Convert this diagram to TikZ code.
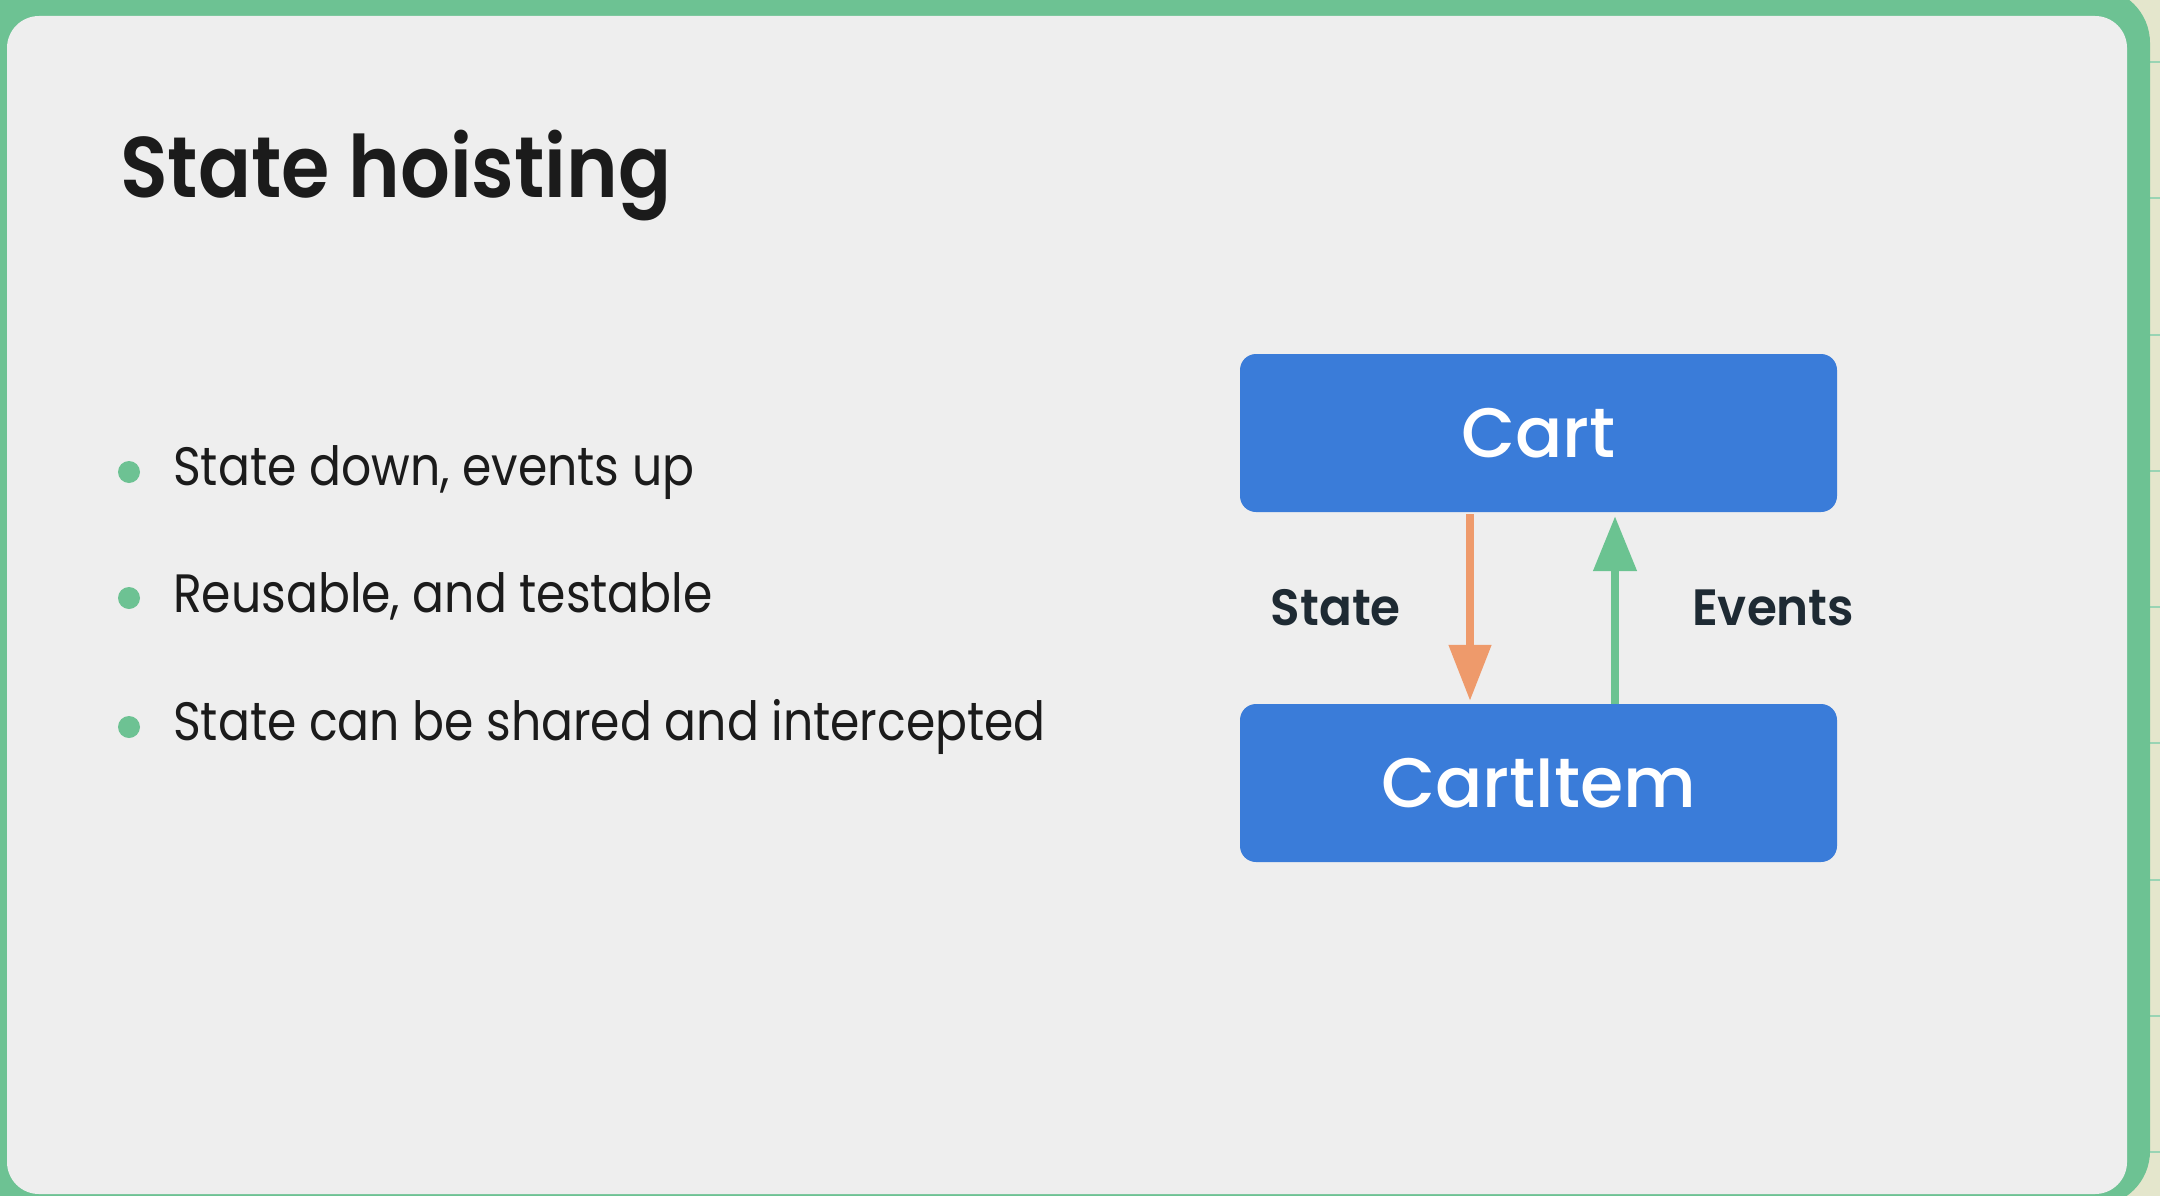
\documentclass[tikz,border=0pt]{standalone}
\usepackage{fontspec}
\setmainfont{Poppins}
\newfontfamily\titlefont{Poppins SemiBold}[FakeStretch=0.91]
\newfontfamily\bodyfont{Poppins}[FakeStretch=0.875]
\newfontfamily\boxfont{Poppins Medium}
\newfontfamily\labelfont{Poppins SemiBold}[FakeStretch=0.95]
\usetikzlibrary{arrows.meta}

\definecolor{panelbg}{HTML}{EEEEEE}
\definecolor{framegreen}{HTML}{6DC293}
\definecolor{stripbg}{HTML}{E4E6CC}
\definecolor{boxblue}{HTML}{3A7CD9}
\definecolor{stateorange}{HTML}{EE9A6B}
\definecolor{eventgreen}{HTML}{6BC391}
\definecolor{inkdark}{HTML}{1B1B1B}
\definecolor{labeldark}{HTML}{1E2A33}

\tikzset{
  titletext/.style={anchor=base west, inner sep=0pt, text=inkdark,
    font=\titlefont\fontsize{86}{96}\selectfont},
  bullettext/.style={anchor=base west, inner sep=0pt, text=inkdark,
    font=\bodyfont\fontsize{54}{60}\selectfont},
  bulletdot/.style={circle, fill=framegreen, minimum size=22pt, inner sep=0pt},
  compbox/.style={rectangle, rounded corners=16pt, fill=boxblue, text=white,
    minimum width=597pt, minimum height=158pt, inner sep=0pt,
    font=\boxfont\fontsize{70}{80}\selectfont},
  flowlabel/.style={inner sep=0pt, text=labeldark,
    font=\labelfont\fontsize{51}{60}\selectfont},
  statearrow/.style={draw=stateorange, line width=8pt,
    -{Triangle[width=41pt,length=56pt]}, shorten <=2pt, shorten >=3pt},
  eventarrow/.style={draw=eventgreen, line width=8pt,
    -{Triangle[width=42pt,length=55pt]}, shorten >=4pt},
}

\begin{document}
\begin{tikzpicture}[x=1pt,y=-1pt]
  \useasboundingbox (0,0) rectangle (2160,1196);

  % backdrop strip on the right with its ruled lines
  \fill[stripbg] (0,0) rectangle (2160,1196);
  \foreach \yy in {62,198,335,471,607,743,880,1016,1152}
    \draw[framegreen!70, line width=2pt] (2150,\yy) -- (2160,\yy);

  % green frame and slide panel
  \fill[framegreen] (-40,-12) [rounded corners=55pt] rectangle (2150,1206);
  \fill[panelbg] (7,16) [rounded corners=32pt] rectangle (2127,1194);

  % title
  \node[titletext] (title) at (120,197) {State hoisting};

  % bullet list
  \node[bulletdot] (d1) at (129,472) {};
  \node[bulletdot] (d2) at (129,598) {};
  \node[bulletdot] (d3) at (129,727) {};
  \node[bullettext] (b1) at (173,485) {State down, events up};
  \node[bullettext] (b2) at (173,612) {Reusable, and testable};
  \node[bullettext] (b3) at (173,740) {State can be shared and intercepted};

  % component boxes
  \node[compbox] (cart) at (1538.5,433) {Cart};
  \node[compbox] (item) at (1538.5,783) {CartItem};

  % arrow columns
  \coordinate (sx) at (1470,0);
  \coordinate (ex) at (1615,0);
  \draw[statearrow] (cart.south -| sx) -- (item.north -| sx);
  \draw[eventarrow] (item.north -| ex) -- (cart.south -| ex);

  % arrow labels
  \node[flowlabel, anchor=base east] (lstate) at (1401,625) {State};
  \node[flowlabel, anchor=base west] (levents) at (1692,625) {Events};
\end{tikzpicture}
\end{document}
